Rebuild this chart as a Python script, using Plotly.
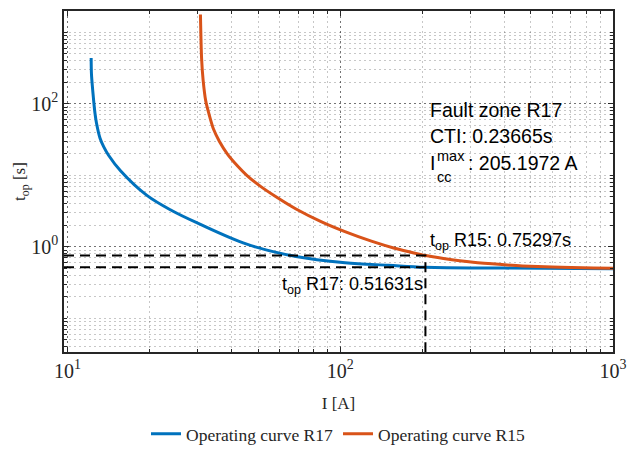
import math
import plotly.graph_objects as go

# ---- data ----
r17_I = [12.20, 12.23, 12.34, 12.47, 12.60, 12.76, 13.15, 13.57, 14.13, 15.66, 19.53, 24.17,
         30.0, 45.4, 68.8, 104.2, 150, 205.1972, 400, 1000]
r17_t = [437, 265, 167, 107.5, 73.8, 53.9, 33.0, 25.0, 19.1, 11.47, 5.23, 3.19,
         2.14, 1.088, 0.731, 0.599, 0.551, 0.51631, 0.503, 0.494]

r15_I = [30.7, 31.0, 31.4, 32.1, 33.0, 34.3, 36.0, 38.5, 42.0, 45.4, 51.0, 57.9, 68.8, 85,
         104, 130, 158, 180, 205.1972, 239, 307, 400, 465, 600, 703, 850, 1000]
r15_t = [1774, 430, 215, 110, 72, 44, 30, 20, 13.5, 10.0, 7.0, 5.05, 3.38, 2.25,
         1.63, 1.2, 0.955, 0.845, 0.75297, 0.685, 0.606, 0.56, 0.54, 0.52, 0.513, 0.506, 0.502]

t_r15 = 0.75297
t_r17 = 0.51631
I_cc = 205.1972
CTI = 0.23665

x_lim = [9.7, 1000]
y_lim = [0.0337, 1990]

x_major = [10, 100, 1000]
x_major_text = ["10<sup>1</sup>", "10<sup>2</sup>", "10<sup>3</sup>"]
x_minor = [20, 30, 40, 50, 60, 70, 80, 90, 200, 300, 400, 500, 600, 700, 800, 900]
y_major = [1, 100]
y_major_text = ["10<sup>0</sup>", "10<sup>2</sup>"]
y_minor = [0.04, 0.05, 0.06, 0.07, 0.08, 0.09, 0.1, 0.2, 0.3, 0.4, 0.5, 0.6, 0.7, 0.8, 0.9,
           2, 3, 4, 5, 6, 7, 8, 9, 10, 20, 30, 40, 50, 60, 70, 80, 90,
           200, 300, 400, 500, 600, 700, 800, 900, 1000]

BLUE = "#0072BD"
ORANGE = "#D95319"
AX = "#262626"
SERIF = "Liberation Serif"
SANS = "Liberation Sans"

fig = go.Figure()
fig.add_trace(go.Scatter(x=r17_I, y=r17_t, mode="lines", name="Operating curve R17",
                         line=dict(color=BLUE, width=3, shape="spline", smoothing=1.0)))
fig.add_trace(go.Scatter(x=r15_I, y=r15_t, mode="lines", name="Operating curve R15",
                         line=dict(color=ORANGE, width=3, shape="spline", smoothing=0.8)))
fig.add_trace(go.Scatter(x=[x_lim[0], I_cc, I_cc], y=[t_r15, t_r15, y_lim[0]], mode="lines",
                         showlegend=False, line=dict(color="black", width=2, dash="10px,6px")))
fig.add_trace(go.Scatter(x=[x_lim[0], I_cc], y=[t_r17, t_r17], mode="lines",
                         showlegend=False, line=dict(color="black", width=2, dash="10px,6px")))

grid_major = "rgba(0,0,0,0.55)"
grid_minor = "rgba(0,0,0,0.22)"

common = dict(type="log", showline=True, linecolor=AX, linewidth=1.5, mirror="allticks",
              ticks="inside", ticklen=5, tickcolor=AX, tickwidth=1,
              showgrid=True, gridcolor=grid_major, griddash="2px,3px", gridwidth=1,
              tickfont=dict(family=SERIF, size=20, color=AX), zeroline=False)

fig.update_xaxes(**common, range=[math.log10(x_lim[0]), math.log10(x_lim[1])],
                 tickmode="array", tickvals=x_major, ticktext=x_major_text,
                 minor=dict(tickmode="array", tickvals=x_minor, ticks="inside", ticklen=3,
                            tickcolor=AX, showgrid=True, gridcolor=grid_minor, griddash="2px,3px"),
                 title=dict(text="I [A]", font=dict(family=SERIF, size=17, color=AX), standoff=16))
fig.update_yaxes(**common, range=[math.log10(y_lim[0]), math.log10(y_lim[1])],
                 tickmode="array", tickvals=y_major, ticktext=y_major_text,
                 minor=dict(tickmode="array", tickvals=y_minor, ticks="inside", ticklen=3,
                            tickcolor=AX, showgrid=True, gridcolor=grid_minor, griddash="2px,3px"),
                 title=dict(text="t<sub>op</sub> [s]", font=dict(family=SERIF, size=17, color=AX), standoff=1))

def py2paper(py):
    return (359 - py) / 350

ann_font = dict(family=SANS, size=19.5, color="black")
xa = math.log10(I_cc)
for txt, py in [("Fault zone R17", 111), (f"CTI: {CTI}s", 137), ("I", 165)]:
    fig.add_annotation(xref="x", yref="paper", x=xa, xshift=3, y=py2paper(py),
                       xanchor="left", yanchor="middle", showarrow=False, text=txt, font=ann_font)
# stacked super/subscript for I_cc^max
fig.add_annotation(xref="x", yref="paper", x=xa, xshift=10, y=py2paper(158),
                   xanchor="left", yanchor="middle", showarrow=False, text="max",
                   font=dict(family=SANS, size=14.5, color="black"))
fig.add_annotation(xref="x", yref="paper", x=xa, xshift=10, y=py2paper(179),
                   xanchor="left", yanchor="middle", showarrow=False, text="cc",
                   font=dict(family=SANS, size=14.5, color="black"))
fig.add_annotation(xref="x", yref="paper", x=xa, xshift=41, y=py2paper(165),
                   xanchor="left", yanchor="middle", showarrow=False, text=f": {I_cc} A",
                   font=ann_font)

fig.add_annotation(xref="x", yref="y", x=xa, xshift=3, y=math.log10(t_r15),
                   xanchor="left", yanchor="bottom", yshift=1, showarrow=False,
                   text=f"t<sub>op</sub> R15: {t_r15}s", font=dict(family=SANS, size=18, color="black"))
fig.add_annotation(xref="x", yref="y", x=xa, y=math.log10(t_r17),
                   xanchor="right", yanchor="top", yshift=-5, showarrow=False,
                   text=f"t<sub>op</sub> R17: {t_r17}s", font=dict(family=SANS, size=18, color="black"))

fig.update_layout(
    width=636, height=461,
    margin=dict(l=64, r=14, t=9, b=102),
    paper_bgcolor="white", plot_bgcolor="white",
    showlegend=True,
    legend=dict(orientation="h", x=0.5, xanchor="center", y=-0.24, yanchor="middle",
                font=dict(family=SERIF, size=17.5, color=AX), bgcolor="rgba(0,0,0,0)",
                itemwidth=30),
)

fig.write_html("out.html")
